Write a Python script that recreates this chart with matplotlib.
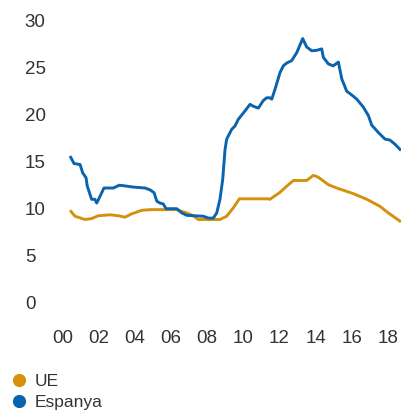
import matplotlib
matplotlib.use("Agg")
import matplotlib.pyplot as plt
from matplotlib.lines import Line2D

# unemployment rate (%)
spain_years = [2000.43, 2000.65, 2000.98, 2001.13, 2001.31, 2001.38, 2001.62, 2001.8, 2001.9,
               2002.08, 2002.3, 2002.82, 2003.15, 2003.56, 2003.92, 2004.57, 2004.85, 2005.07,
               2005.22, 2005.4, 2005.58, 2005.73, 2006.32, 2006.6, 2006.87, 2007.24, 2007.79,
               2008.07, 2008.34, 2008.53, 2008.71, 2008.86, 2008.99, 2009.08, 2009.36, 2009.54,
               2009.72, 2010.09, 2010.37, 2010.55, 2010.83, 2011.1, 2011.29, 2011.47, 2011.57,
               2011.75, 2012.03, 2012.21, 2012.4, 2012.67, 2012.95, 2013.28, 2013.5, 2013.78,
               2014.06, 2014.33, 2014.42, 2014.7, 2014.97, 2015.25, 2015.44, 2015.71, 2015.99,
               2016.27, 2016.63, 2016.91, 2017.09, 2017.46, 2017.83, 2018.1, 2018.38, 2018.71]
spain = [15.6, 14.8, 14.7, 13.8, 13.3, 12.4, 11.0, 11.0, 10.6,
         11.3, 12.2, 12.2, 12.5, 12.4, 12.3, 12.2, 12.0, 11.7,
         10.8, 10.6, 10.5, 10.0, 10.0, 9.55, 9.3, 9.25, 9.2,
         9.0, 9.0, 9.55, 11.0, 13.1, 16.3, 17.4, 18.45, 18.8,
         19.5, 20.4, 21.1, 20.9, 20.7, 21.5, 21.8, 21.8, 21.65,
         22.7, 24.5, 25.2, 25.5, 25.75, 26.6, 28.1, 27.2, 26.8,
         26.85, 27.0, 26.1, 25.4, 25.2, 25.6, 23.8, 22.5, 22.1,
         21.65, 20.8, 19.9, 18.9, 18.1, 17.4, 17.3, 16.85, 16.2]

ue_years = [2000.43, 2000.7, 2001.25, 2001.62, 2001.99, 2002.64, 2003.09, 2003.46, 2003.83,
            2004.39, 2004.85, 2006.32, 2006.87, 2007.24, 2007.51, 2008.71, 2009.08, 2009.45,
            2009.78, 2011.38, 2011.47, 2012.03, 2012.4, 2012.77, 2013.5, 2013.87, 2014.14,
            2014.7, 2015.16, 2016.08, 2016.82, 2017.55, 2018.01, 2018.71]
ue = [9.83, 9.2, 8.85, 8.95, 9.25, 9.35, 9.25, 9.1, 9.45,
      9.83, 9.9, 9.9, 9.55, 9.25, 8.85, 8.85, 9.2, 10.1,
      11.05, 11.05, 11.0, 11.75, 12.4, 13.0, 13.0, 13.55, 13.35,
      12.55, 12.2, 11.6, 11.0, 10.25, 9.55, 8.6]

x_ticks = list(range(2000, 2019, 2))
x_labels = ["00", "02", "04", "06", "08", "10", "12", "14", "16", "18"]
y_ticks = [0, 5, 10, 15, 20, 25, 30]

blue = "#0a63ad"
orange = "#d4910e"
text_col = "#333333"

plt.rcParams['font.family'] = ['Liberation Sans', 'DejaVu Sans']

W, H = 401, 411
fig = plt.figure(figsize=(W / 100, H / 100), dpi=100)
ax = fig.add_axes([62.3 / W, (H - 302.7) / H, (W - 62.3) / W, 282.0 / H])

ax.plot(ue_years, ue, color=orange, lw=2.1, solid_capstyle='butt')
ax.plot(spain_years, spain, color=blue, lw=2.1, solid_capstyle='butt')

ax.set_xlim(2000, 2018.71)
ax.set_ylim(0, 30)
ax.set_xticks(x_ticks)
ax.set_xticklabels(x_labels)
ax.set_yticks(y_ticks)
ax.tick_params(axis='both', length=0, labelsize=13.5, colors=text_col)
ax.tick_params(axis='y', pad=27)
ax.tick_params(axis='x', pad=20)
for lab in ax.get_yticklabels():
    lab.set_horizontalalignment('left')
for s in ax.spines.values():
    s.set_visible(False)

handles = [Line2D([], [], color=orange, marker='o', ls='none', markersize=8.5),
           Line2D([], [], color=blue, marker='o', ls='none', markersize=8.5)]
fig.legend(handles, ["UE", "Espanya"], loc='upper left', bbox_to_anchor=(0.022, 0.098),
           frameon=False, fontsize=12.5, handlelength=0.8, handletextpad=0.5,
           labelspacing=0.34, borderaxespad=0.0, borderpad=0.2, labelcolor=text_col)

fig.savefig("out.png", dpi=100)
